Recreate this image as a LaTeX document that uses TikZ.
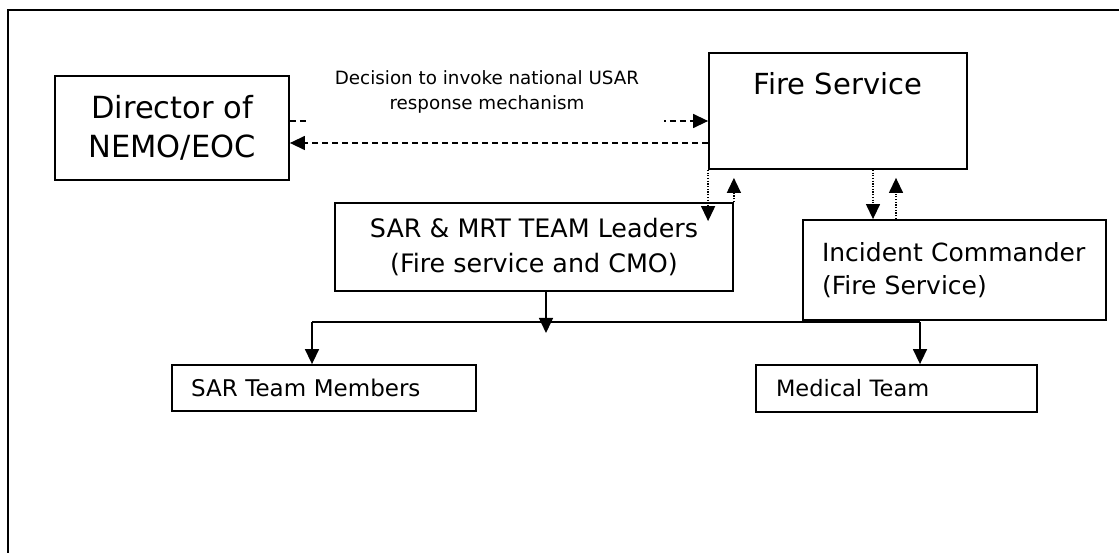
\documentclass[tikz,border=0pt]{standalone}
\usepackage{fontspec}
\setmainfont{DejaVu Sans}
\usetikzlibrary{arrows.meta,calc}
\begin{document}
\begin{tikzpicture}[x=1pt,y=-1pt,
  box/.style={draw,line width=1.8pt,rectangle,inner sep=0pt},
  tip/.style={-{Triangle[length=15pt,width=14pt]}},
  dasharrow/.style={tip,line width=1.4pt,dash pattern=on 6pt off 4pt},
  dotarrow/.style={tip,line width=1.3pt,dash pattern=on 1.2pt off 1.5pt},
  solidarrow/.style={tip,line width=1.5pt},
  conn/.style={line width=1.5pt}]
\useasboundingbox (0,0) rectangle (1119,553);
\fill[white] (0,0) rectangle (1119,553);
% outer frame (only left and top edges are visible)
\draw[line width=2.4pt] (8,553) -- (8,10) -- (1119,10);

% nodes
\node[box,minimum width=234pt,minimum height=104pt,align=center,
  font=\fontsize{30.5}{39}\selectfont] (dir) at (172,128) {Director of\\NEMO/EOC};
\node[box,minimum width=258pt,minimum height=116pt,
  label={[anchor=north,inner sep=0pt,yshift=-20pt,font=\fontsize{29}{34}\selectfont]north:Fire Service}] (fs) at (838,111) {};
\node[box,minimum width=398pt,minimum height=88pt,align=center,
  font=\fontsize{25.4}{35}\selectfont] (sar) at (534,247) {SAR \& MRT TEAM Leaders\\(Fire service and CMO)};
\node[box,minimum width=303pt,minimum height=100pt,inner xsep=19pt,text width=265pt,align=left,
  font=\fontsize{25}{33}\selectfont] (ic) at (954.5,270) {Incident Commander\\(Fire Service)};
\node[box,minimum width=304pt,minimum height=46pt,inner xsep=19pt,text width=266pt,align=left,
  font=\fontsize{23}{28}\selectfont] (stm) at (324,388) {SAR Team Members};
\node[box,minimum width=281pt,minimum height=47pt,inner xsep=20pt,text width=241pt,align=left,
  font=\fontsize{22.5}{28}\selectfont] (med) at (896.5,388.5) {Medical Team};

% dashed connectors between Director and Fire Service
\draw[dasharrow] ([yshift=7pt]dir.east) -- ([yshift=7pt]dir.east -| fs.west);
\draw[dasharrow] ([yshift=-15pt]dir.east -| fs.west) -- ([yshift=-15pt]dir.east);
\node[fill=white,minimum width=354pt,minimum height=68pt,inner sep=0pt,align=center,
  font=\fontsize{18.3}{25}\selectfont] (lbl) at (487,92) {Decision to invoke national USAR\\response mechanism};

% dotted connectors Fire Service <-> SAR leaders
\draw[dotarrow] (fs.south west) -- ($(fs.south west |- sar.north)+(0,19)$);
\draw[dotarrow] (sar.north east) -- ($(sar.north east |- fs.south)+(0,8)$);
% dotted connectors Fire Service <-> Incident Commander
\draw[dotarrow] ([xshift=35pt]fs.south) -- ([xshift=35pt]fs.south |- ic.north);
\draw[dotarrow] ([xshift=58pt]fs.south |- ic.north) -- ([xshift=58pt,yshift=-8pt]fs.south);

% solid tree
\coordinate (jl) at (312,322);
\coordinate (jr) at (920,322);
\draw[conn] (jl) -- (jr);
\draw[solidarrow] ([xshift=12pt]sar.south) -- ($([xshift=12pt]sar.south |- jl)+(0,11)$);
\draw[solidarrow] (jl) -- (jl |- stm.north);
\draw[solidarrow] (jr) -- (jr |- med.north);
\end{tikzpicture}
\end{document}
